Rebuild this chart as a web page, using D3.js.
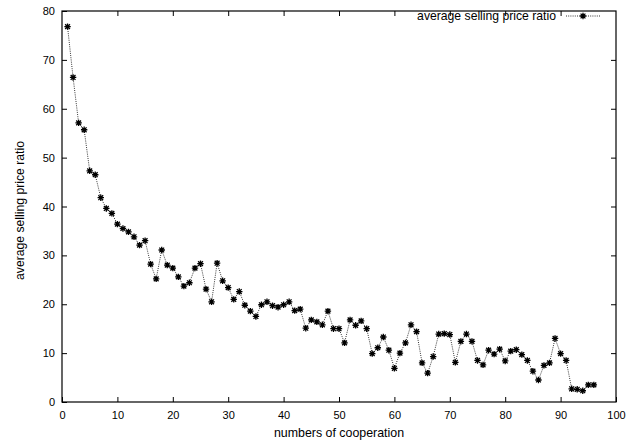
<!DOCTYPE html>
<html>
<head>
<meta charset="utf-8">
<script src="https://cdn.jsdelivr.net/npm/d3@7"></script>
<style>
  html, body { margin: 0; padding: 0; background: #fff; }
  svg { display: block; font-family: "Liberation Sans", Arial, Helvetica, sans-serif; }
</style>
</head>
<body>
<div id="chart"></div>
<script>
// values
const cooperation = d3.range(1, 97);
const priceRatio = [
  76.8, 66.4, 57.1, 55.7, 47.3, 46.5, 41.8, 39.6, 38.6, 36.4,
  35.5, 34.8, 33.8, 32.1, 33.0, 28.2, 25.2, 31.1, 28.0, 27.4,
  25.6, 23.7, 24.4, 27.4, 28.3, 23.1, 20.5, 28.4, 24.8, 23.4,
  21.0, 22.6, 19.8, 18.6, 17.5, 19.9, 20.5, 19.7, 19.4, 19.9,
  20.5, 18.7, 19.0, 15.1, 16.8, 16.4, 15.8, 18.6, 15.0, 15.0,
  12.1, 16.8, 15.7, 16.6, 15.0, 9.9, 11.1, 13.3, 10.6, 6.9,
  10.0, 12.1, 15.8, 14.4, 8.0, 5.9, 9.3, 13.9, 14.0, 13.8,
  8.1, 12.4, 13.9, 12.4, 8.5, 7.6, 10.6, 9.8, 10.8, 8.4,
  10.4, 10.7, 9.7, 8.5, 6.3, 4.5, 7.5, 8.0, 13.0, 9.9,
  8.5, 2.7, 2.6, 2.3, 3.5, 3.5
];
const xTicks = d3.range(0, 101, 10);
const yTicks = d3.range(0, 81, 10);
const seriesName = "average selling price ratio";
const xTitle = "numbers of cooperation";
const yTitle = "average selling price ratio";

const width = 632;
const height = 442;
const marginTop = 11;
const marginRight = 16;
const marginBottom = 40;
const marginLeft = 62;
const tickSize = 5;

const data = cooperation.map((c, i) => ({ x: c, y: priceRatio[i] }));

const x = d3.scaleLinear().domain([0, 100]).range([marginLeft, width - marginRight]);
const y = d3.scaleLinear().domain([0, 80]).range([height - marginBottom, marginTop]);

const svg = d3.select("#chart").append("svg")
  .attr("width", width)
  .attr("height", height)
  .attr("viewBox", [0, 0, width, height]);

// gnuplot style: ticks point inward on all four sides
const axisStyle = (g) => {
  g.select(".domain").remove();
  g.selectAll(".tick line").attr("stroke", "#000");
  g.selectAll(".tick text").attr("fill", "#000").attr("font-size", 11);
};

svg.append("g")
  .attr("transform", `translate(0,${y(0)})`)
  .call(d3.axisBottom(x).tickValues(xTicks).tickSize(-tickSize).tickPadding(9))
  .call(axisStyle);

svg.append("g")
  .attr("transform", `translate(0,${y(80)})`)
  .call(d3.axisTop(x).tickValues(xTicks.slice(1, -1)).tickSize(-tickSize).tickFormat(""))
  .call(axisStyle);

svg.append("g")
  .attr("transform", `translate(${x(0)},0)`)
  .call(d3.axisLeft(y).tickValues(yTicks).tickSize(-tickSize).tickPadding(7))
  .call(axisStyle);

svg.append("g")
  .attr("transform", `translate(${x(100)},0)`)
  .call(d3.axisRight(y).tickValues(yTicks.slice(1, -1)).tickSize(-tickSize).tickFormat(""))
  .call(axisStyle);

svg.append("rect")
  .attr("x", x(0))
  .attr("y", y(80))
  .attr("width", x(100) - x(0))
  .attr("height", y(0) - y(80))
  .attr("fill", "none")
  .attr("stroke", "#000")
  .attr("stroke-width", 1.2);

// axis titles
svg.append("text")
  .attr("x", (x(0) + x(100)) / 2)
  .attr("y", height - 5)
  .attr("text-anchor", "middle")
  .attr("font-size", 12.4)
  .text(xTitle);

svg.append("text")
  .attr("transform", `translate(24,${(y(0) + y(80)) / 2 + 4}) rotate(-90)`)
  .attr("text-anchor", "middle")
  .attr("font-size", 12.2)
  .text(yTitle);

// series
const line = d3.line().x((d) => x(d.x)).y((d) => y(d.y));

svg.append("path")
  .datum(data)
  .attr("d", line)
  .attr("fill", "none")
  .attr("stroke", "#333")
  .attr("stroke-width", 1)
  .attr("stroke-dasharray", "1,1.2");

const r = 3.2;
const star = `M${-r},0H${r}M0,${-r}V${r}M${-r * 0.75},${-r * 0.75}L${r * 0.75},${r * 0.75}M${-r * 0.75},${r * 0.75}L${r * 0.75},${-r * 0.75}`;

svg.append("g")
  .selectAll("path")
  .data(data)
  .join("path")
  .attr("transform", (d) => `translate(${x(d.x)},${y(d.y)})`)
  .attr("d", star)
  .attr("fill", "none")
  .attr("stroke", "#000")
  .attr("stroke-width", 1.3);

// legend
const legend = svg.append("g").attr("transform", `translate(556,${y(80) + 5})`);
legend.append("text")
  .attr("x", 0)
  .attr("y", 0)
  .attr("dy", "0.32em")
  .attr("text-anchor", "end")
  .attr("font-size", 12.2)
  .text(seriesName);
legend.append("line")
  .attr("x1", 10)
  .attr("x2", 44)
  .attr("y1", 0)
  .attr("y2", 0)
  .attr("stroke", "#333")
  .attr("stroke-dasharray", "1,1.2");
legend.append("path")
  .attr("transform", "translate(27,0)")
  .attr("d", star)
  .attr("fill", "none")
  .attr("stroke", "#000")
  .attr("stroke-width", 1.3);
</script>
</body>
</html>
